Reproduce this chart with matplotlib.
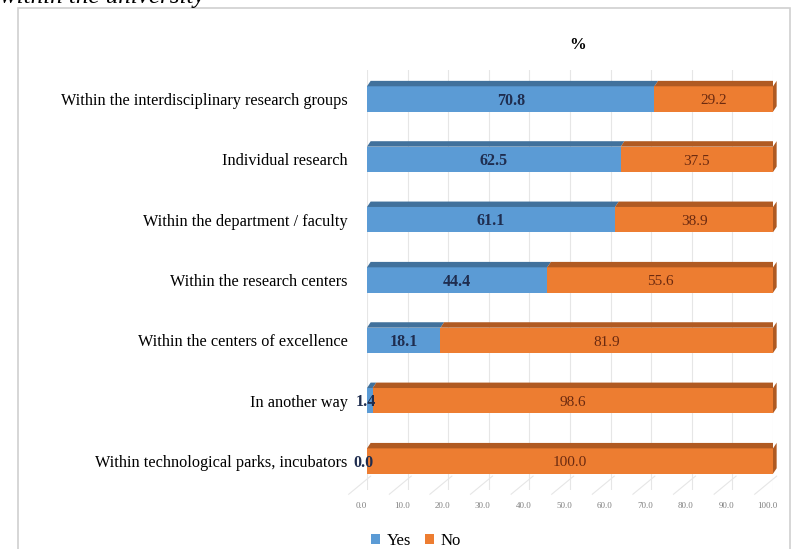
import matplotlib
matplotlib.use("Agg")
import matplotlib.pyplot as plt
from matplotlib.patches import Polygon, Rectangle
import matplotlib.transforms as mtransforms
import numpy as np

categories = [
    "Within the interdisciplinary research groups",
    "Individual research",
    "Within the department / faculty",
    "Within the research centers",
    "Within the centers of excellence",
    "In another way",
    "Within technological parks, incubators",
]
yes_vals = [70.8, 62.5, 61.1, 44.4, 18.1, 1.4, 0.0]
no_vals = [29.2, 37.5, 38.9, 55.6, 81.9, 98.6, 100.0]
xticks = [0, 10, 20, 30, 40, 50, 60, 70, 80, 90, 100]
series_names = ["Yes", "No"]

plt.rcParams['font.family'] = ['Liberation Serif', 'DejaVu Serif']

W, H = 800, 549
fig = plt.figure(figsize=(8, 5.49), dpi=100)

# outer chart frame
frame = Rectangle((18 / W, -0.02), (790 - 18) / W, 1 - 8 / H + 0.02, transform=fig.transFigure,
                  fill=False, edgecolor="#d0d0d0", linewidth=1.2)
fig.patches.append(frame)

# cropped caption at very top (cut off in the reference as well)
fig.text(0.0, 1 - 3 / H, "within the university", fontsize=18, style="italic",
         va="baseline", ha="left", color="black")

ax_left, ax_right = 367 / W, 773 / W
ax_top, ax_bot = 70 / H, 490 / H
ax = fig.add_axes([ax_left, 1 - ax_bot, ax_right - ax_left, ax_bot - ax_top])

n = len(categories)
y = np.arange(n)
bh = 0.42
blue, orange = "#5B9BD5", "#ED7D31"
blue_d, orange_d = "#41719C", "#B05A22"

ax.set_xlim(0, 100)
ax.set_ylim(n - 1 + 0.48, -0.48)

for xt in xticks:
    ax.axvline(xt, color="#e6e6e6", linewidth=0.8, zorder=0)

dx = 0.9   # depth in x data units
dy = 0.09  # depth in y data units

for i in range(n):
    segs = [(0, yes_vals[i], blue, blue_d), (yes_vals[i], no_vals[i], orange, orange_d)]
    for (left, w, c, cd) in segs:
        if w <= 0:
            continue
        top = y[i] - bh / 2
        ax.add_patch(Rectangle((left, top), w, bh, facecolor=c, edgecolor="none", zorder=3))
        ax.add_patch(Polygon([(left, top), (left + dx, top - dy), (left + w + dx, top - dy), (left + w, top)],
                             closed=True, facecolor=cd, edgecolor="none", zorder=3))
    # right side face
    xr = yes_vals[i] + no_vals[i]
    sidec = orange_d if no_vals[i] > 0 else blue_d
    ax.add_patch(Polygon([(xr, y[i] - bh / 2), (xr + dx, y[i] - bh / 2 - dy),
                          (xr + dx, y[i] + bh / 2 - dy), (xr, y[i] + bh / 2)],
                         closed=True, facecolor=sidec, edgecolor="none", zorder=3, clip_on=False))
    # labels
    ax.text(yes_vals[i] / 2 if yes_vals[i] > 5 else -1.0 + yes_vals[i] / 2, y[i] + 0.03,
            f"{yes_vals[i]:.1f}", ha="center", va="center", fontsize=11.5, fontweight="bold",
            color="#1F2D4F", zorder=5)
    ax.text(yes_vals[i] + no_vals[i] / 2, y[i] + 0.03, f"{no_vals[i]:.1f}", ha="center", va="center",
            fontsize=11, color="#6B2A10", zorder=5)

# faint perspective floor lines
for xt in xticks:
    ax.plot([xt + dx, xt - 4.5], [n - 1 + 0.25, n - 1 + 0.55], color="#e6e6e6",
            linewidth=0.8, clip_on=False, zorder=0)

ax.set_yticks(y)
ax.set_yticklabels(categories, fontsize=11.7)
ax.set_xticks(xticks)
ax.set_xticklabels([f"{v:.1f}" for v in xticks], fontsize=6.5, color="#808080")
ax.tick_params(axis="y", length=0, pad=14)
ax.tick_params(axis="x", length=0, pad=9)
shift = mtransforms.ScaledTranslation(-6 / 100, 0, fig.dpi_scale_trans)
for lab in ax.get_xticklabels():
    lab.set_transform(lab.get_transform() + shift)
for s in ax.spines.values():
    s.set_visible(False)

fig.text(578 / W, 1 - 45 / H, "%", fontsize=12, fontweight="bold", ha="center", va="center")

# legend
handles = [Rectangle((0, 0), 1, 1, facecolor=blue), Rectangle((0, 0), 1, 1, facecolor=orange)]
fig.legend(handles, series_names, loc="center", bbox_to_anchor=(416 / W, 1 - 541 / H), ncol=2,
           frameon=False, fontsize=12, handlelength=0.55, handleheight=0.55, columnspacing=0.8,
           handletextpad=0.4, borderpad=0.1)

fig.savefig("out.png", dpi=100)
